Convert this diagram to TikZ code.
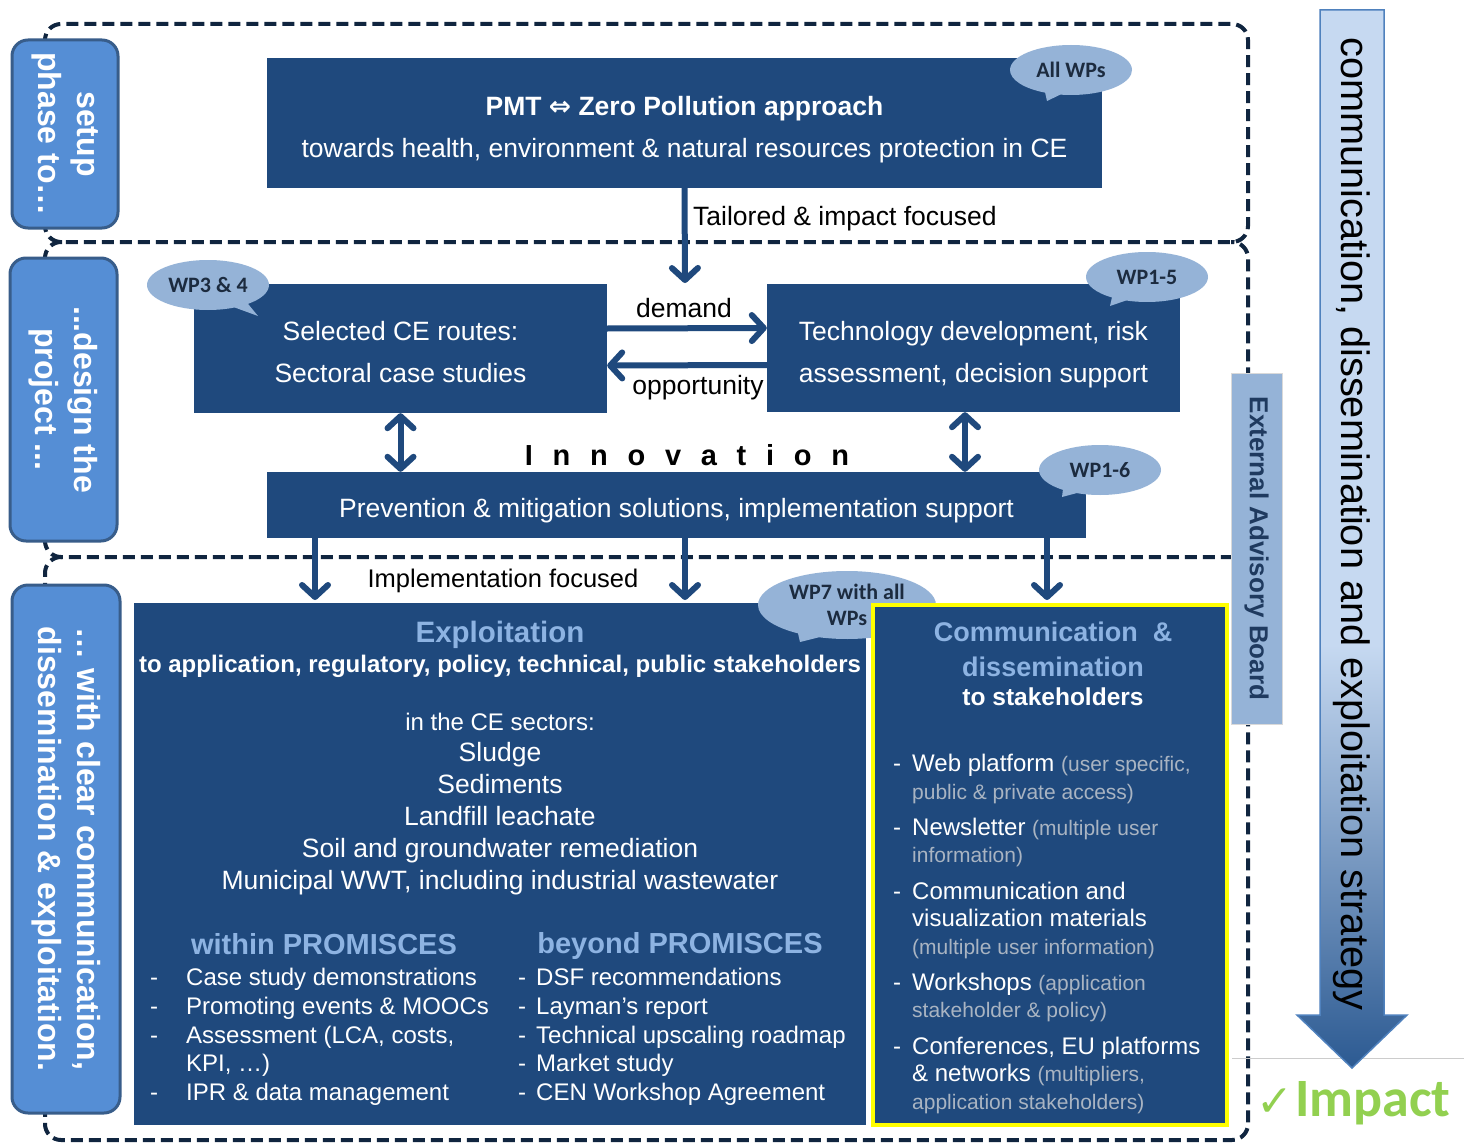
\documentclass[tikz,border=0pt]{standalone}
\usepackage{fontspec}
\setmainfont{Liberation Sans}
\newfontfamily\calibri{Carlito}
\newfontfamily\dejavu{DejaVu Sans}
\usetikzlibrary{positioning,arrows.meta,shapes.callouts}

\definecolor{navy}{HTML}{1F497D}
\definecolor{pillblue}{HTML}{558ED5}
\definecolor{pillline}{HTML}{385D8A}
\definecolor{wpblue}{HTML}{95B3D7}
\definecolor{wptext}{HTML}{1C2B3F}
\definecolor{eabtext}{HTML}{1F3A5F}
\definecolor{titleblue}{HTML}{8DB3E2}
\definecolor{notegray}{HTML}{A9B4C2}
\definecolor{dashnavy}{HTML}{10253F}
\definecolor{hiyellow}{HTML}{FFFF00}
\definecolor{arrowlight}{HTML}{C6D9F1}
\definecolor{arrowdark}{HTML}{2C5A92}
\definecolor{arrowline}{HTML}{4F81BD}
\definecolor{impactgreen}{HTML}{92D050}

\pgfdeclareverticalshading{strategyshade}{100bp}{color(0bp)=(arrowdark); color(25bp)=(arrowdark); color(45bp)=(arrowlight); color(100bp)=(arrowlight)}

\newcommand{\fs}[2]{\fontsize{#1}{#2}\selectfont}
\newcommand{\dashitem}[2]{\makebox[#1][l]{-}#2}
\newcommand{\gnote}[1]{{\color{notegray}\fs{21}{27.6}#1}}

\begin{document}
\begin{tikzpicture}[x=1pt,y=-1pt,
  zone/.style={draw=dashnavy,line width=4pt,dash pattern=on 12pt off 6pt,rounded corners=16pt},
  pill/.style={draw=pillline,fill=pillblue,line width=3pt,rounded corners=16pt,rotate=-90,text=white,align=center,font=\bfseries\fs{32}{39},inner sep=0pt},
  navybox/.style={fill=navy,inner sep=0pt},
  boxtext/.style={text=white,align=center,inner sep=0pt,font=\fs{26.5}{42}},
  flow/.style={draw=navy,line width=6pt,-{Straight Barb[length=12pt,width=26pt,round]}},
  flowboth/.style={draw=navy,line width=6pt,{Straight Barb[length=12pt,width=26pt,round]}-{Straight Barb[length=12pt,width=26pt,round]}},
  lbl/.style={font=\fs{26.5}{30},inner sep=0pt},
  wp/.style={ellipse callout,fill=wpblue,text=wptext,align=center,font=\calibri\bfseries\fs{22}{26},inner sep=0pt,minimum width=122pt,minimum height=50pt},
  sechead/.style={text=titleblue,font=\bfseries\fs{29}{35},align=center,inner sep=0pt}]
\path[fill=white,use as bounding box] (0,0) rectangle (1464,1145);

% dashed phase frames
\draw[zone] (45,24) rectangle (1248,242);
\draw[zone] (62,242) -- (45,242) -- (45,557) -- (1248,557) -- (1248,242) -- (1231,242);
\draw[zone] (62,557) -- (45,557) -- (45,1140) -- (1248,1140) -- (1248,557) -- (1231,557);

% phase labels
\node[pill,minimum width=188pt,minimum height=106pt] (setup) at (65,134) {setup\\phase to…};
\node[pill,minimum width=283pt,minimum height=107pt] (design) at (63.5,399.5) {...design the\\project ...};
\node[pill,minimum width=528pt,minimum height=108pt] (withclear) at (66,849) {… with clear communication,\\dissemination \& exploitation.};

% main boxes
\node[navybox,minimum width=835pt,minimum height=130pt] (pmt) at (684.5,123) {};
\node[boxtext] (pmttext) at ([yshift=-7pt]pmt.center) {\textbf{PMT {\dejavu ⇔} Zero Pollution approach}\\towards health, environment \& natural resources protection in CE};
\node[navybox,minimum width=413pt,minimum height=129pt] (routes) at (400.5,348.5) {};
\node[boxtext] (routestext) at ([yshift=-4pt]routes.center) {Selected CE routes:\\Sectoral case studies};
\node[navybox,minimum width=413pt,minimum height=128pt] (techdev) at (973.5,348) {};
\node[boxtext] (techdevtext) at ([yshift=-7pt]techdev.center) {Technology development, risk\\assessment, decision support};
\node[navybox,minimum width=819pt,minimum height=66pt] (prevention) at (676.5,505) {};
\node[boxtext] (preventiontext) at ([yshift=-6pt]prevention.center) {Prevention \& mitigation solutions, implementation support};
\node[navybox,minimum width=732pt,minimum height=522pt] (exploit) at (500,864) {};

% connectors
\coordinate (tailend) at (685,283);
\draw[flow] (pmt.south) -- (tailend);
\node[lbl,anchor=west] (tailored) at (693,219) {Tailored \& impact focused};
\draw[flow] ([yshift=20pt]routes.east) -- ([yshift=20pt]techdev.west);
\draw[flow] ([yshift=-17pt]techdev.west) -- ([yshift=-17pt]routes.east);
\node[lbl] (demand) at (684,308) {demand};
\node[lbl] (opportunity) at (698,388) {opportunity};
\draw[flowboth] (routes.south) -- (routes.south |- prevention.north);
\draw[flowboth] ([xshift=-8.5pt]techdev.south) -- ([xshift=-8.5pt]techdev.south |- prevention.north);
\node[font=\bfseries\fs{29}{30}\addfontfeatures{LetterSpace=68}] (innovation) at (687,455) {Innovation};
\coordinate (down1) at (315,600);
\coordinate (down2) at (685,600);
\coordinate (down3) at (1047,600);
\draw[flow] (prevention.south -| down1) -- (down1);
\draw[flow] (prevention.south -| down2) -- (down2);
\draw[flow] (prevention.south -| down3) -- (down3);
\node[lbl,font=\fs{25.5}{30}] (implfocused) at (503,581) {Implementation focused};

% work package bubbles
\node[wp,callout absolute pointer={(1047,101)}] (allwps) at (1071,70) {All WPs};
\node[wp,callout absolute pointer={(258,316)}] (wp34) at (208,285) {WP3 \& 4};
\node[wp,callout absolute pointer={(1110,306)}] (wp15) at (1147,277) {WP1-5};
\node[wp,callout absolute pointer={(1062,497)}] (wp16) at (1100,470) {WP1-6};
\node[wp,minimum width=178pt,minimum height=68pt,callout absolute pointer={(800,642)}] (wp7) at (847,605) {WP7 with all\\WPs};

% exploitation
\node[sechead,font=\bfseries\fs{29.5}{35}] (exptitle) at (500,635) {Exploitation};
\node[lbl,text=white,font=\bfseries\fs{24}{28}] (expsub) at (500,666) {to application, regulatory, policy, technical, public stakeholders};
\node[lbl,text=white,font=\fs{24}{28}] (sectorhead) at (500,722) {in the CE sectors:};
\node[lbl,text=white,align=center,font=\fs{26.5}{32}] (sectors) at (500,819) {Sludge\\Sediments\\Landfill leachate\\Soil and groundwater remediation\\Municipal WWT, including industrial wastewater};
\node[sechead] (within) at (324,944) {within PROMISCES};
\node[sechead] (beyond) at (680,946) {beyond PROMISCES};
\node[lbl,text=white,anchor=north west,align=left,font=\fs{24}{28.7}] (withinlist) at (150,968) {\dashitem{36pt}{Case study demonstrations}\\
\dashitem{36pt}{Promoting events \& MOOCs}\\
\dashitem{36pt}{Assessment (LCA, costs,}\\
\hspace*{36pt}KPI, …)\\
\dashitem{36pt}{IPR \& data management}};
\node[lbl,text=white,anchor=north west,align=left,font=\fs{24}{28.7}] (beyondlist) at (518,968) {\dashitem{18pt}{DSF recommendations}\\
\dashitem{18pt}{Layman’s report}\\
\dashitem{18pt}{Technical upscaling roadmap}\\
\dashitem{18pt}{Market study}\\
\dashitem{18pt}{CEN Workshop Agreement}};

% communication & dissemination
\node[navybox,draw=hiyellow,line width=4pt,minimum width=354pt,minimum height=520pt] (comm) at (1050,865) {};
\node[sechead,font=\bfseries\fs{27}{35}] (commtitle) at (1053,649.5) {Communication~~\&\\dissemination};
\node[lbl,text=white,font=\bfseries\fs{24.5}{28}] (commsub) at (1053,697) {to stakeholders};
\node[lbl,text=white,anchor=north west,align=left,font=\fs{24}{27.6}] (commlist) at (893,754) {\dashitem{19pt}{Web platform \gnote{(user specific,}}\\
\hspace*{19pt}\gnote{public \& private access)}\\[8.5pt]
\dashitem{19pt}{Newsletter \gnote{(multiple user}}\\
\hspace*{19pt}\gnote{information)}\\[8.5pt]
\dashitem{19pt}{Communication and}\\
\hspace*{19pt}visualization materials\\
\hspace*{19pt}\gnote{(multiple user information)}\\[8.5pt]
\dashitem{19pt}{Workshops \gnote{(application}}\\
\hspace*{19pt}\gnote{stakeholder \& policy)}\\[8.5pt]
\dashitem{19pt}{Conferences, EU platforms}\\
\hspace*{19pt}\& networks \gnote{(multipliers,}\\
\hspace*{19pt}\gnote{application stakeholders)}};

% advisory board
\node[rotate=-90,fill=wpblue,draw=black!15,line width=1pt,minimum width=351pt,minimum height=51pt,inner sep=0pt,text=eabtext,font=\bfseries\fs{26}{26}] (eab) at (1256.5,548.5) {External Advisory Board};

% strategy arrow and impact
\draw[black!20,line width=1pt] (1232,1058) -- (1464,1058);
\shadedraw[shading=strategyshade,draw=arrowline,line width=1.5pt] (1320,10) -- (1384,10) -- (1384,1015) -- (1407,1015) -- (1352,1068) -- (1297,1015) -- (1320,1015) -- cycle;
\node[rotate=-90,font=\fs{39.7}{40},inner sep=0pt] (strategy) at (1352,524) {communication, dissemination and exploitation strategy};
\node[text=impactgreen,font=\calibri\bfseries\fs{54}{54},inner sep=0pt] (impact) at (1373,1103) {Impact};
\node[text=impactgreen,font=\dejavu\bfseries\fs{44}{44},inner sep=0pt,left=2pt of impact] (tick) {✓};
\end{tikzpicture}
\end{document}
